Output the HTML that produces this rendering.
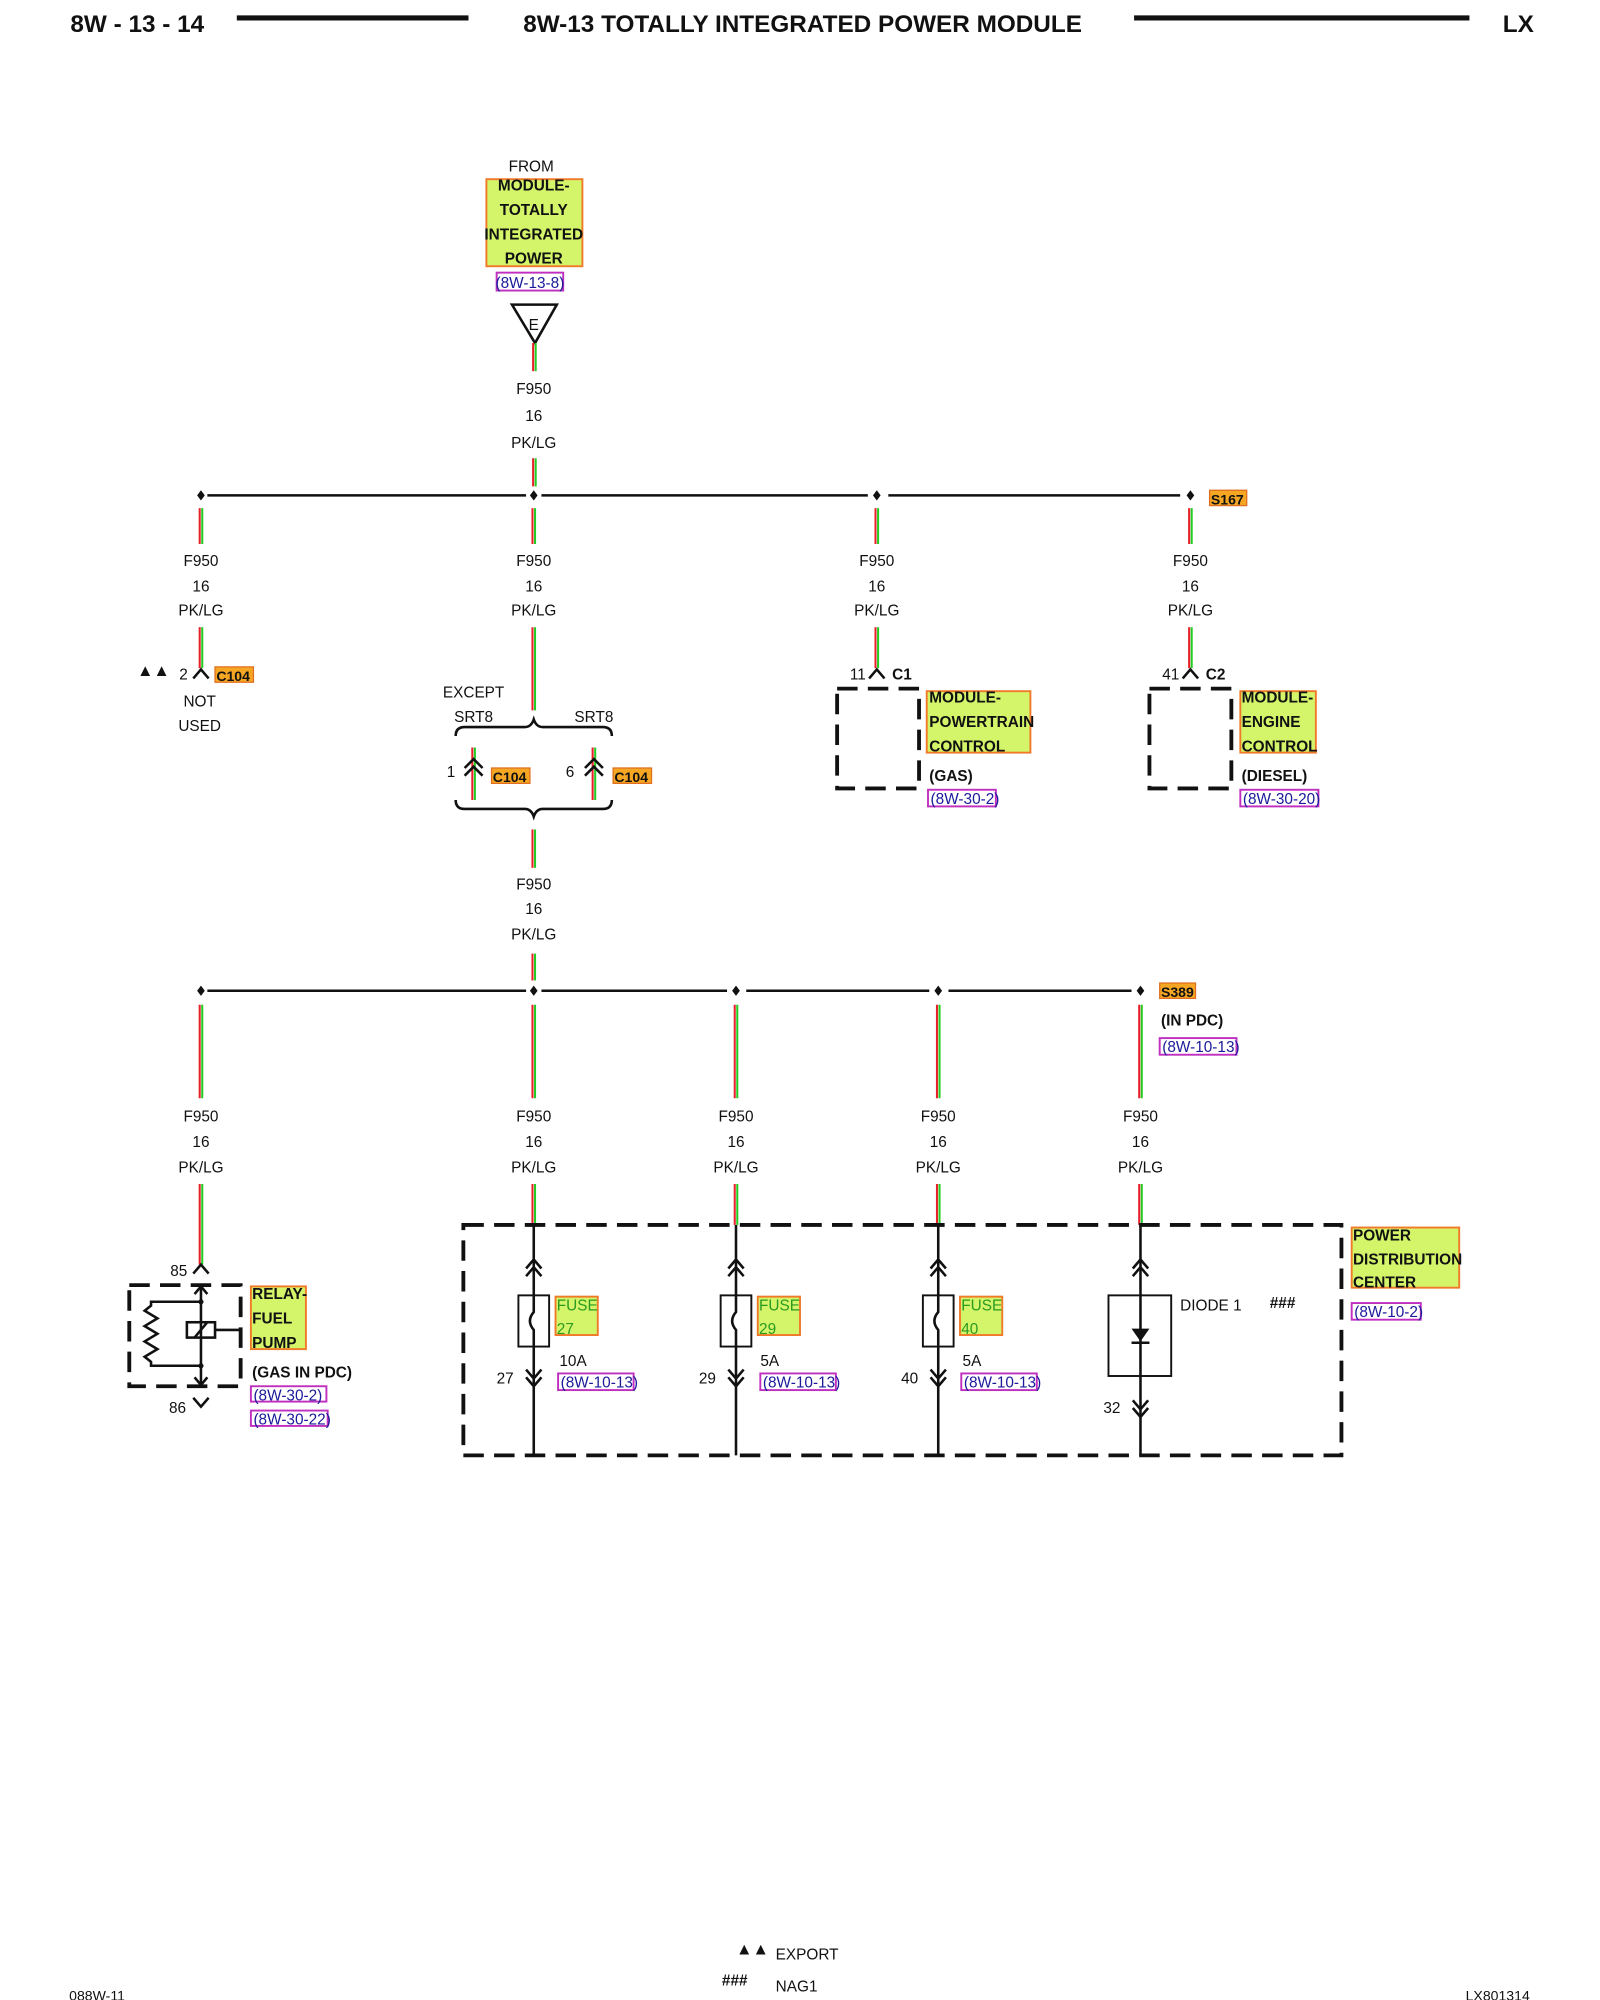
<!DOCTYPE html>
<html><head><meta charset="utf-8"><style>
html,body{margin:0;padding:0;background:#fff;}
svg{display:block;}
text{font-family:"Liberation Sans",Arial,sans-serif;font-size:12px;fill:#111;}
.b{font-weight:bold;}
.c{text-anchor:middle;}
.h{font-size:19px;font-weight:bold;}
.lbl{fill:#d4f56a;stroke:#f07a2a;stroke-width:1.5;}
.ref{fill:#fff;stroke:#c030c0;stroke-width:1.5;}
.rt{fill:#1a1a9a;}
.conn{fill:#f5a623;stroke:#e07020;stroke-width:1;}
.bk{stroke:#111;stroke-width:2;fill:none;}
.dash{stroke:#111;stroke-width:3;fill:none;stroke-dasharray:16,8;}
.wr{stroke:#e8202a;stroke-width:1.6;}
.wg{stroke:#22cc22;stroke-width:1.6;}
.gt{fill:#2a9a20;}
</style></head><body>
<svg width="1600" height="2000" viewBox="0 0 1250 1562.5" xmlns="http://www.w3.org/2000/svg">
<!-- header -->
<text class="h" x="55" y="25">8W - 13 - 14</text>
<line x1="185" y1="14" x2="366" y2="14" stroke="#111" stroke-width="4"/>
<text class="h c" x="627" y="25">8W-13 TOTALLY INTEGRATED POWER MODULE</text>
<line x1="886" y1="14" x2="1148" y2="14" stroke="#111" stroke-width="4"/>
<text class="h" x="1174" y="25">LX</text>

<!-- top source -->
<text class="c" x="415" y="134">FROM</text>
<rect class="lbl" x="380" y="140" width="75" height="68"/>
<text class="b c" x="417" y="149">MODULE-</text>
<text class="b c" x="417" y="168">TOTALLY</text>
<text class="b c" x="417" y="187">INTEGRATED</text>
<text class="b c" x="417" y="206">POWER</text>
<rect class="ref" x="388" y="213" width="52" height="14"/>
<text class="rt c" x="414" y="225">(8W-13-8)</text>
<polygon points="400,238 435,238 418,268" class="bk"/>
<text class="c" x="417" y="258">E</text>

<!-- wire segments helper: red/green pairs -->
<g>
<line class="wr" x1="416.5" y1="268" x2="416.5" y2="290"/><line class="wg" x1="418.5" y1="268" x2="418.5" y2="290"/>
<line class="wr" x1="416.5" y1="358" x2="416.5" y2="380"/><line class="wg" x1="418.5" y1="358" x2="418.5" y2="380"/>
</g>
<text class="c" x="417" y="308">F950</text><text class="c" x="417" y="329">16</text><text class="c" x="417" y="350">PK/LG</text>

<!-- bus 1 -->
<line x1="162" y1="387" x2="411" y2="387" class="bk" stroke-width="3"/>
<line x1="423" y1="387" x2="678" y2="387" class="bk" stroke-width="3"/>
<line x1="694" y1="387" x2="922" y2="387" class="bk" stroke-width="3"/>
<g fill="#111">
<polygon points="157,383 160,387 157,391 154,387"/>
<polygon points="417,383 420,387 417,391 414,387"/>
<polygon points="685,383 688,387 685,391 682,387"/>
<polygon points="930,383 933,387 930,391 927,387"/>
</g>
<rect class="conn" x="945" y="383" width="29" height="12"/>
<text class="b" x="946" y="394" style="font-size:11px">S167</text>

<g>
<line class="wr" x1="156" y1="397" x2="156" y2="425"/><line class="wg" x1="158" y1="397" x2="158" y2="425"/>
<line class="wr" x1="416" y1="397" x2="416" y2="425"/><line class="wg" x1="418" y1="397" x2="418" y2="425"/>
<line class="wr" x1="684" y1="397" x2="684" y2="425"/><line class="wg" x1="686" y1="397" x2="686" y2="425"/>
<line class="wr" x1="929" y1="397" x2="929" y2="425"/><line class="wg" x1="931" y1="397" x2="931" y2="425"/>
<line class="wr" x1="156" y1="490" x2="156" y2="522"/><line class="wg" x1="158" y1="490" x2="158" y2="522"/>
<line class="wr" x1="416" y1="490" x2="416" y2="555"/><line class="wg" x1="418" y1="490" x2="418" y2="555"/>
<line class="wr" x1="684" y1="490" x2="684" y2="522"/><line class="wg" x1="686" y1="490" x2="686" y2="522"/>
<line class="wr" x1="929" y1="490" x2="929" y2="522"/><line class="wg" x1="931" y1="490" x2="931" y2="522"/>
</g>
<g>
<text class="c" x="157" y="442">F950</text><text class="c" x="157" y="462">16</text><text class="c" x="157" y="481">PK/LG</text>
<text class="c" x="417" y="442">F950</text><text class="c" x="417" y="462">16</text><text class="c" x="417" y="481">PK/LG</text>
<text class="c" x="685" y="442">F950</text><text class="c" x="685" y="462">16</text><text class="c" x="685" y="481">PK/LG</text>
<text class="c" x="930" y="442">F950</text><text class="c" x="930" y="462">16</text><text class="c" x="930" y="481">PK/LG</text>
</g>

<!-- left C104 not used -->
<text class="b" x="107" y="528" style="font-size:13px">▲▲</text>
<text x="140" y="531">2</text>
<polyline class="bk" stroke-width="1.5" points="151,530 157,523 163,530"/>
<rect class="conn" x="168" y="521" width="30" height="12"/>
<text class="b" x="169" y="532" style="font-size:11px">C104</text>
<text class="c" x="156" y="552">NOT</text>
<text class="c" x="156" y="571">USED</text>

<!-- except SRT8 -->
<text class="c" x="370" y="545">EXCEPT</text>
<text class="c" x="370" y="564">SRT8</text>
<text class="c" x="464" y="564">SRT8</text>
<path class="bk" stroke-width="1.5" d="M356,575 Q356,568 363,568 L410,568 Q415,568 417,562 Q419,568 424,568 L471,568 Q478,568 478,575"/>
<line class="wr" x1="369" y1="584" x2="369" y2="625"/><line class="wg" x1="371" y1="584" x2="371" y2="625"/>
<line class="wr" x1="463" y1="584" x2="463" y2="625"/><line class="wg" x1="465" y1="584" x2="465" y2="625"/>
<text x="349" y="607">1</text>
<polyline class="bk" stroke-width="1.5" points="363,600 370,593 377,600"/>
<polyline class="bk" stroke-width="1.5" points="363,606 370,599 377,606"/>
<rect class="conn" x="384" y="600" width="30" height="12"/>
<text class="b" x="385" y="611" style="font-size:11px">C104</text>
<text x="442" y="607">6</text>
<polyline class="bk" stroke-width="1.5" points="457,600 464,593 471,600"/>
<polyline class="bk" stroke-width="1.5" points="457,606 464,599 471,606"/>
<rect class="conn" x="479" y="600" width="30" height="12"/>
<text class="b" x="480" y="611" style="font-size:11px">C104</text>
<path class="bk" stroke-width="1.5" d="M356,625 Q356,632 363,632 L410,632 Q415,632 417,638 Q419,632 424,632 L471,632 Q478,632 478,625"/>
<line class="wr" x1="416" y1="648" x2="416" y2="678"/><line class="wg" x1="418" y1="648" x2="418" y2="678"/>
<text class="c" x="417" y="695">F950</text><text class="c" x="417" y="714">16</text><text class="c" x="417" y="734">PK/LG</text>
<line class="wr" x1="416" y1="745" x2="416" y2="766"/><line class="wg" x1="418" y1="745" x2="418" y2="766"/>

<!-- C1 -->
<text x="664" y="531">11</text>
<polyline class="bk" stroke-width="1.5" points="679,530 685,523 691,530"/>
<text class="b" x="697" y="531">C1</text>
<rect class="dash" x="654" y="538" width="64" height="78" stroke-width="2.5" stroke-dasharray="12,6"/>
<rect class="lbl" x="724" y="540" width="81" height="48"/>
<text class="b" x="726" y="549">MODULE-</text>
<text class="b" x="726" y="568">POWERTRAIN</text>
<text class="b" x="726" y="587">CONTROL</text>
<text class="b" x="726" y="610">(GAS)</text>
<rect class="ref" x="725" y="617" width="53" height="13"/>
<text class="rt" x="727" y="628">(8W-30-2)</text>

<!-- C2 -->
<text x="908" y="531">41</text>
<polyline class="bk" stroke-width="1.5" points="924,530 930,523 936,530"/>
<text class="b" x="942" y="531">C2</text>
<rect class="dash" x="898" y="538" width="64" height="78" stroke-width="2.5" stroke-dasharray="12,6"/>
<rect class="lbl" x="969" y="540" width="59" height="48"/>
<text class="b" x="970" y="549">MODULE-</text>
<text class="b" x="970" y="568">ENGINE</text>
<text class="b" x="970" y="587">CONTROL</text>
<text class="b" x="970" y="610">(DIESEL)</text>
<rect class="ref" x="969" y="617" width="61" height="13"/>
<text class="rt" x="971" y="628">(8W-30-20)</text>

<!-- bus 2 -->
<line x1="162" y1="774" x2="411" y2="774" class="bk" stroke-width="3"/>
<line x1="423" y1="774" x2="568" y2="774" class="bk" stroke-width="3"/>
<line x1="583" y1="774" x2="726" y2="774" class="bk" stroke-width="3"/>
<line x1="741" y1="774" x2="884" y2="774" class="bk" stroke-width="3"/>
<g fill="#111">
<polygon points="157,770 160,774 157,778 154,774"/>
<polygon points="417,770 420,774 417,778 414,774"/>
<polygon points="575,770 578,774 575,778 572,774"/>
<polygon points="733,770 736,774 733,778 730,774"/>
<polygon points="891,770 894,774 891,778 888,774"/>
</g>
<rect class="conn" x="906" y="768" width="28" height="12"/>
<text class="b" x="907" y="779" style="font-size:11px">S389</text>
<text class="b" x="907" y="801">(IN PDC)</text>
<rect class="ref" x="906" y="811" width="60" height="13"/>
<text class="rt" x="908" y="822">(8W-10-13)</text>

<g>
<line class="wr" x1="156" y1="785" x2="156" y2="858"/><line class="wg" x1="158" y1="785" x2="158" y2="858"/>
<line class="wr" x1="416" y1="785" x2="416" y2="858"/><line class="wg" x1="418" y1="785" x2="418" y2="858"/>
<line class="wr" x1="574" y1="785" x2="574" y2="858"/><line class="wg" x1="576" y1="785" x2="576" y2="858"/>
<line class="wr" x1="732" y1="785" x2="732" y2="858"/><line class="wg" x1="734" y1="785" x2="734" y2="858"/>
<line class="wr" x1="890" y1="785" x2="890" y2="858"/><line class="wg" x1="892" y1="785" x2="892" y2="858"/>
<line class="wr" x1="156" y1="925" x2="156" y2="988"/><line class="wg" x1="158" y1="925" x2="158" y2="988"/>
<line class="wr" x1="416" y1="925" x2="416" y2="957"/><line class="wg" x1="418" y1="925" x2="418" y2="957"/>
<line class="wr" x1="574" y1="925" x2="574" y2="957"/><line class="wg" x1="576" y1="925" x2="576" y2="957"/>
<line class="wr" x1="732" y1="925" x2="732" y2="957"/><line class="wg" x1="734" y1="925" x2="734" y2="957"/>
<line class="wr" x1="890" y1="925" x2="890" y2="957"/><line class="wg" x1="892" y1="925" x2="892" y2="957"/>
</g>
<g>
<text class="c" x="157" y="876">F950</text><text class="c" x="157" y="896">16</text><text class="c" x="157" y="916">PK/LG</text>
<text class="c" x="417" y="876">F950</text><text class="c" x="417" y="896">16</text><text class="c" x="417" y="916">PK/LG</text>
<text class="c" x="575" y="876">F950</text><text class="c" x="575" y="896">16</text><text class="c" x="575" y="916">PK/LG</text>
<text class="c" x="733" y="876">F950</text><text class="c" x="733" y="896">16</text><text class="c" x="733" y="916">PK/LG</text>
<text class="c" x="891" y="876">F950</text><text class="c" x="891" y="896">16</text><text class="c" x="891" y="916">PK/LG</text>
</g>

<!-- relay -->
<text x="133" y="997">85</text>
<polyline class="bk" stroke-width="1.5" points="151,995 157,988 163,995"/>
<rect class="dash" x="101" y="1004" width="87" height="79" stroke-width="2.5" stroke-dasharray="12,6"/>
<line class="bk" stroke-width="1.5" x1="157" y1="1004" x2="157" y2="1083"/>
<polyline class="bk" stroke-width="1.5" points="152,1011 157,1005 162,1011"/>
<polyline class="bk" stroke-width="1.5" points="152,1076 157,1082 162,1076"/>
<polyline class="bk" stroke-width="1.5" points="157,1017 118,1017 118,1020 113,1024 123,1030 113,1036 123,1042 113,1048 123,1054 113,1060 118,1064 118,1067 157,1067"/>
<circle cx="157" cy="1017" r="2" fill="#111"/><circle cx="157" cy="1067" r="2" fill="#111"/>
<rect class="bk" stroke-width="1.5" x="146" y="1033" width="22" height="12"/>
<line class="bk" stroke-width="1.5" x1="152" y1="1045" x2="162" y2="1033"/>
<line class="bk" stroke-width="1.5" x1="168" y1="1039" x2="188" y2="1039"/>
<text x="132" y="1104">86</text>
<polyline class="bk" stroke-width="1.5" points="151,1092 157,1099 163,1092"/>
<rect class="lbl" x="196" y="1005" width="43" height="49"/>
<text class="b" x="197" y="1015">RELAY-</text>
<text class="b" x="197" y="1034">FUEL</text>
<text class="b" x="197" y="1053">PUMP</text>
<text class="b" x="197" y="1076">(GAS IN PDC)</text>
<rect class="ref" x="196" y="1083" width="59" height="12"/>
<text class="rt" x="198" y="1094">(8W-30-2)</text>
<rect class="ref" x="196" y="1102" width="60" height="12"/>
<text class="rt" x="198" y="1113">(8W-30-22)</text>

<!-- PDC -->
<rect class="dash" x="362" y="957" width="686" height="180"/>
<!-- fuse columns -->
<g>
<line class="bk" stroke-width="1.5" x1="417" y1="957" x2="417" y2="1137"/>
<polyline class="bk" stroke-width="1.5" points="411,991 417,984 423,991"/><polyline class="bk" stroke-width="1.5" points="411,997 417,990 423,997"/>
<polyline class="bk" stroke-width="1.5" points="411,1070 417,1077 423,1070"/><polyline class="bk" stroke-width="1.5" points="411,1076 417,1083 423,1076"/>
<rect x="405" y="1012" width="24" height="40" fill="#fff" stroke="#111" stroke-width="1.5"/>
<path class="bk" stroke-width="1.2" d="M417,1012 L417,1025 Q411,1032 417,1039 L417,1052"/>
<rect class="lbl" x="434" y="1013" width="33" height="30"/>
<text class="gt" x="435" y="1024">FUSE</text><text class="gt" x="435" y="1042">27</text>
<text x="437" y="1067">10A</text>
<text x="388" y="1081">27</text>
<rect class="ref" x="436" y="1073" width="59" height="13"/>
<text class="rt" x="438" y="1084">(8W-10-13)</text>
</g>
<g>
<line class="bk" stroke-width="1.5" x1="575" y1="957" x2="575" y2="1137"/>
<polyline class="bk" stroke-width="1.5" points="569,991 575,984 581,991"/><polyline class="bk" stroke-width="1.5" points="569,997 575,990 581,997"/>
<polyline class="bk" stroke-width="1.5" points="569,1070 575,1077 581,1070"/><polyline class="bk" stroke-width="1.5" points="569,1076 575,1083 581,1076"/>
<rect x="563" y="1012" width="24" height="40" fill="#fff" stroke="#111" stroke-width="1.5"/>
<path class="bk" stroke-width="1.2" d="M575,1012 L575,1025 Q569,1032 575,1039 L575,1052"/>
<rect class="lbl" x="592" y="1013" width="33" height="30"/>
<text class="gt" x="593" y="1024">FUSE</text><text class="gt" x="593" y="1042">29</text>
<text x="594" y="1067">5A</text>
<text x="546" y="1081">29</text>
<rect class="ref" x="594" y="1073" width="59" height="13"/>
<text class="rt" x="596" y="1084">(8W-10-13)</text>
</g>
<g>
<line class="bk" stroke-width="1.5" x1="733" y1="957" x2="733" y2="1137"/>
<polyline class="bk" stroke-width="1.5" points="727,991 733,984 739,991"/><polyline class="bk" stroke-width="1.5" points="727,997 733,990 739,997"/>
<polyline class="bk" stroke-width="1.5" points="727,1070 733,1077 739,1070"/><polyline class="bk" stroke-width="1.5" points="727,1076 733,1083 739,1076"/>
<rect x="721" y="1012" width="24" height="40" fill="#fff" stroke="#111" stroke-width="1.5"/>
<path class="bk" stroke-width="1.2" d="M733,1012 L733,1025 Q727,1032 733,1039 L733,1052"/>
<rect class="lbl" x="750" y="1013" width="33" height="30"/>
<text class="gt" x="751" y="1024">FUSE</text><text class="gt" x="751" y="1042">40</text>
<text x="752" y="1067">5A</text>
<text x="704" y="1081">40</text>
<rect class="ref" x="751" y="1073" width="59" height="13"/>
<text class="rt" x="753" y="1084">(8W-10-13)</text>
</g>
<g>
<line class="bk" stroke-width="1.5" x1="891" y1="957" x2="891" y2="1137"/>
<polyline class="bk" stroke-width="1.5" points="885,991 891,984 897,991"/><polyline class="bk" stroke-width="1.5" points="885,997 891,990 897,997"/>
<polyline class="bk" stroke-width="1.5" points="885,1094 891,1101 897,1094"/><polyline class="bk" stroke-width="1.5" points="885,1100 891,1107 897,1100"/>
<rect x="866" y="1012" width="49" height="63" fill="#fff" stroke="#111" stroke-width="1.5"/>
<line class="bk" stroke-width="1.5" x1="891" y1="1012" x2="891" y2="1075"/>
<polygon points="884,1038 898,1038 891,1048" fill="#111"/>
<line class="bk" stroke-width="2" x1="884" y1="1049" x2="898" y2="1049"/>
<text x="922" y="1024">DIODE 1</text>
<text class="b" x="992" y="1022">###</text>
<text x="862" y="1104">32</text>
</g>
<rect class="lbl" x="1056" y="959" width="84" height="47"/>
<text class="b" x="1057" y="969">POWER</text>
<text class="b" x="1057" y="988">DISTRIBUTION</text>
<text class="b" x="1057" y="1006">CENTER</text>
<rect class="ref" x="1056" y="1018" width="54" height="13"/>
<text class="rt" x="1058" y="1029">(8W-10-2)</text>

<!-- footer -->
<text class="b" x="575" y="1527" style="font-size:13px">▲▲</text>
<text x="606" y="1531">EXPORT</text>
<text class="b" x="564" y="1551">###</text>
<text x="606" y="1556">NAG1</text>
<text x="54" y="1563" style="font-size:11px">088W-11</text>
<text x="1145" y="1563" style="font-size:11px">LX801314</text>
</svg>
</body></html>
